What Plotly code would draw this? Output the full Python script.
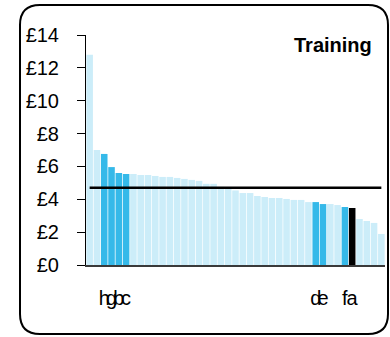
import plotly.graph_objects as go

# ---- data ----
positions = list(range(1, 42))
values = [12.8, 7.0, 6.76, 5.96, 5.6, 5.54, 5.54, 5.48, 5.48, 5.42,
          5.36, 5.36, 5.3, 5.24, 5.18, 5.12, 4.94, 4.94, 4.76, 4.68,
          4.54, 4.38, 4.38, 4.2, 4.14, 4.08, 4.08, 4.02, 3.96, 3.96,
          3.83, 3.83, 3.71, 3.71, 3.65, 3.53, 3.47, 2.8, 2.68, 2.56, 1.89]
highlight = [3, 4, 5, 6, 32, 33, 36]          # darker blue bars
selected = [37]                               # black bar
label_pos = [3, 4, 5, 6, 32, 33, 36, 37]
label_text = ["h", "g", "b", "c", "d", "e", "f", "a"]
average = 4.70
y_ticks = [0, 2, 4, 6, 8, 10, 12, 14]
y_tick_text = ["£" + str(v) for v in y_ticks]
title_text = "Training"

LIGHT = "#CCEDF9"
DARK = "#35B9E9"
BLACK = "#000000"

colors = []
for p in positions:
    if p in selected:
        colors.append(BLACK)
    elif p in highlight:
        colors.append(DARK)
    else:
        colors.append(LIGHT)

fig = go.Figure()
fig.add_trace(go.Bar(x=positions, y=values, marker=dict(color=colors, line=dict(width=0)),
                     hoverinfo="x+y"))
fig.add_trace(go.Scatter(x=[positions[0], positions[-1]], y=[average, average],
                         mode="lines", line=dict(color="black", width=2.6),
                         hoverinfo="skip"))

W, H = 390, 337
L, R, T, B = 86, 5, 35, 72
pw, ph = W - L - R, H - T - B


def px(xp):
    return (xp - L) / pw


def py(yp):
    return (H - B - yp) / ph


x0, x1 = px(20), px(388)
y0, y1 = py(334), py(5)
rx, ry = 20 / pw, 20 / ph
path = (f"M {x0+rx},{y1} L {x1-rx},{y1} Q {x1},{y1} {x1},{y1-ry} "
        f"L {x1},{y0+ry} Q {x1},{y0} {x1-rx},{y0} "
        f"L {x0+rx},{y0} Q {x0},{y0} {x0},{y0+ry} "
        f"L {x0},{y1-ry} Q {x0},{y1} {x0+rx},{y1} Z")

fig.update_layout(
    width=W, height=H,
    margin=dict(l=L, r=R, t=T, b=B, pad=0),
    paper_bgcolor="white", plot_bgcolor="white",
    showlegend=False, bargap=0.1,
    font=dict(family="Liberation Sans, Arial, sans-serif", size=20, color="black"),
    shapes=[dict(type="path", path=path, xref="paper", yref="paper",
                 line=dict(color="black", width=2), layer="above")],
    annotations=[dict(text="<b>" + title_text + "</b>", x=px(374), y=py(32),
                      xref="paper", yref="paper", xanchor="right", yanchor="top",
                      showarrow=False, font=dict(size=20, color="black"))],
)
fig.update_xaxes(range=[0.5, 41.5], tickmode="array", tickvals=label_pos,
                 ticktext=label_text, tickangle=0, ticks="", showgrid=False,
                 zeroline=False, showline=True, linecolor="#3a3a3a", linewidth=2,
                 ticklabelstandoff=14, tickfont=dict(size=20))
fig.update_yaxes(range=[0, 14], tickmode="array", tickvals=y_ticks,
                 ticktext=y_tick_text, ticks="outside", ticklen=8,
                 tickcolor="black", tickwidth=1, showgrid=False, zeroline=False,
                 showline=True, linecolor="black", linewidth=1,
                 ticklabelstandoff=14, tickfont=dict(size=20))

fig.write_html("out.html", config={"displayModeBar": False},
               post_script="document.body.style.margin='0';document.body.style.overflow='hidden';")
